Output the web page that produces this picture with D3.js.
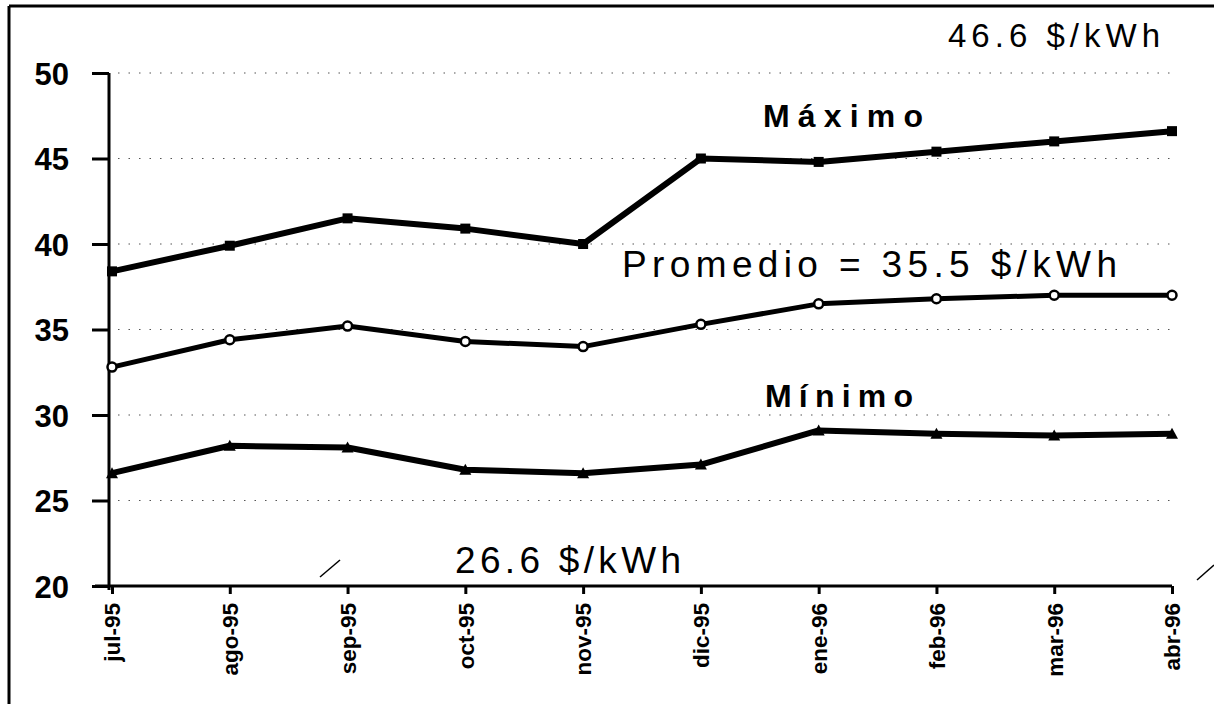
<!DOCTYPE html>
<html><head><meta charset="utf-8">
<script src="https://cdn.jsdelivr.net/npm/d3@7"></script>
<style>body{margin:0;background:#fff}svg{display:block}text{font-family:"Liberation Sans",Arial,sans-serif;fill:#000}</style>
</head><body><svg id="c" width="1214" height="704"></svg>
<script>
const months = ["jul-95","ago-95","sep-95","oct-95","nov-95","dic-95","ene-96","feb-96","mar-96","abr-96"];
const maximo   = [38.4,39.9,41.5,40.9,40.0,45.0,44.8,45.4,46.0,46.6];
const promedio = [32.8,34.4,35.2,34.3,34.0,35.3,36.5,36.8,37.0,37.0];
const minimo   = [26.6,28.2,28.1,26.8,26.6,27.1,29.1,28.9,28.8,28.9];
const yTicks = [20,25,30,35,40,45,50];

const svg = d3.select("#c");
const x = d3.scalePoint().domain(months).range([112,1172]);
const y = d3.scaleLinear().domain([20,50]).range([586,73]);

// frame
svg.append("line").attr("x1",9).attr("x2",9).attr("y1",6).attr("y2",704).attr("stroke","#000").attr("stroke-width",3);
svg.append("line").attr("x1",9).attr("x2",1214).attr("y1",6).attr("y2",6).attr("stroke","#000").attr("stroke-width",3);

// grid
svg.append("g").selectAll("line").data(yTicks.filter(d=>d>20)).join("line")
  .attr("x1",118).attr("x2",1175).attr("y1",d=>y(d)).attr("y2",d=>y(d))
  .attr("stroke","#555").attr("stroke-width",1.2).attr("stroke-dasharray","1.5,9");

// y axis
const ya = svg.append("g").attr("transform","translate(109,0)")
  .call(d3.axisLeft(y).tickValues(yTicks).tickSize(17).tickPadding(23).tickFormat(d3.format("d")));
ya.select(".domain").attr("stroke","#000").attr("stroke-width",3).attr("d","M0,"+y(50)+"V"+(y(20)+4));
ya.selectAll(".tick line").attr("stroke","#000").attr("stroke-width",3);
ya.selectAll("text").attr("font-size",31).attr("font-weight","bold").attr("dy","0.36em");

// x axis
const xa = svg.append("g").attr("transform","translate(0,586)")
  .call(d3.axisBottom(x).tickSize(8).tickPadding(6));
xa.select(".domain").attr("stroke","#000").attr("stroke-width",3).attr("d","M95,0H1172");
xa.selectAll(".tick line").attr("stroke","#000").attr("stroke-width",3);
xa.selectAll("text").attr("font-size",22.5).attr("font-weight","bold")
  .attr("transform","rotate(-90)").attr("text-anchor","end").attr("x",-17).attr("y",0).attr("dy","0.35em");

const line = d3.line().x((d,i)=>x(months[i])).y(d=>y(d));
function series(data,w){
  svg.append("path").datum(data).attr("d",line).attr("fill","none").attr("stroke","#000")
    .attr("stroke-width",w).attr("stroke-linejoin","round");
}
series(maximo,6);
series(promedio,5);
series(minimo,6);

// markers
svg.append("g").selectAll("rect").data(maximo).join("rect")
  .attr("x",(d,i)=>x(months[i])-5).attr("y",d=>y(d)-5).attr("width",10).attr("height",10).attr("fill","#000");
svg.append("g").selectAll("circle").data(promedio).join("circle")
  .attr("cx",(d,i)=>x(months[i])).attr("cy",d=>y(d)).attr("r",4.5).attr("fill","#fff").attr("stroke","#000").attr("stroke-width",2.5);
svg.append("g").selectAll("path").data(minimo).join("path")
  .attr("d",(d,i)=>{const cx=x(months[i]),cy=y(d);return `M${cx-6},${cy+5}L${cx},${cy-6}L${cx+6},${cy+5}Z`;})
  .attr("fill","#000");

// annotations
const ann = [
  {t:"46.6 $/kWh", x:948, y:47, w:"normal", fs:33, len:212},
  {t:"Máximo", x:763, y:127, w:"bold", fs:32, len:160},
  {t:"Promedio = 35.5 $/kWh", x:622, y:277, w:"normal", fs:37, len:495},
  {t:"Mínimo", x:765, y:407, w:"bold", fs:32, len:148},
  {t:"26.6 $/kWh", x:455, y:573, w:"normal", fs:37, len:226}
];
svg.append("g").selectAll("text").data(ann).join("text")
  .attr("x",d=>d.x).attr("y",d=>d.y).attr("text-anchor","start")
  .attr("font-size",d=>d.fs).attr("font-weight",d=>d.w)
  .attr("textLength",d=>d.len).attr("lengthAdjust","spacing").text(d=>d.t);

// stray slash marks
svg.append("line").attr("x1",320).attr("y1",577).attr("x2",340).attr("y2",560).attr("stroke","#000").attr("stroke-width",1.5);
svg.append("line").attr("x1",1197).attr("y1",580).attr("x2",1214).attr("y2",565).attr("stroke","#000").attr("stroke-width",1.5);
</script></body></html>
